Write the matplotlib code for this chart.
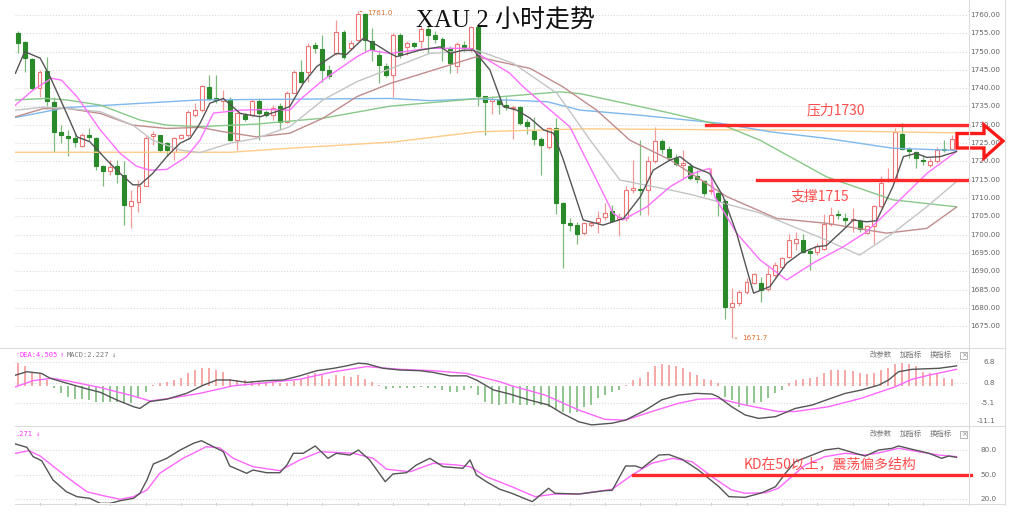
import matplotlib.pyplot as plt
from matplotlib.patches import Polygon, Rectangle
import numpy as np

plt.rcParams['font.family'] = ['DejaVu Sans', 'Noto Sans CJK SC']

# ---- XAU 2h candles ----
opens = [1755.2, 1752.5, 1748.0, 1740.0, 1744.7, 1736.1, 1727.9, 1727.0, 1726.4, 1724.1,
         1727.1, 1726.4, 1718.8, 1717.3, 1718.8, 1716.4, 1707.9, 1708.8, 1713.4, 1726.9,
         1727.1, 1725.0, 1722.7, 1726.4, 1727.1, 1732.7, 1734.1, 1740.3, 1737.3, 1736.5,
         1737.0, 1725.9, 1732.7, 1732.7, 1736.4, 1733.4, 1732.7, 1735.0, 1730.9, 1738.8,
         1744.5, 1744.5, 1751.8, 1750.6, 1745.0, 1749.7, 1755.3, 1750.9, 1753.2, 1760.3,
         1753.0, 1749.1, 1746.0, 1743.6, 1754.5, 1751.2, 1752.3, 1752.8, 1756.2, 1754.6,
         1753.5, 1750.7, 1746.2, 1751.9, 1750.9, 1756.7, 1737.8, 1736.4, 1736.8, 1735.4,
         1734.6, 1734.8, 1730.7, 1728.2, 1726.0, 1723.9, 1729.1, 1708.7, 1703.3, 1702.5,
         1700.4, 1702.5, 1703.4, 1704.7, 1706.4, 1704.4, 1704.5, 1712.3, 1712.5, 1712.3,
         1720.1, 1725.6, 1723.3, 1721.0, 1718.9, 1718.8, 1715.9, 1714.6, 1711.8, 1711.4,
         1709.3, 1680.2, 1681.4, 1684.3, 1686.9, 1686.9, 1685.2, 1689.0, 1691.2, 1694.0,
         1697.8, 1698.5, 1695.5, 1695.3, 1696.1, 1702.9, 1705.6, 1704.6, 1704.0, 1703.8,
         1700.5, 1702.3, 1707.8, 1714.9, 1715.3, 1727.6, 1723.5, 1722.5, 1720.4, 1719.1,
         1720.0, 1723.4, 1723.4]
highs = [1755.6, 1752.8, 1748.2, 1745.0, 1748.5, 1737.5, 1730.0, 1728.6, 1727.7, 1727.7,
         1729.0, 1726.8, 1719.0, 1720.4, 1720.4, 1720.0, 1712.3, 1715.0, 1727.3, 1728.2,
         1727.3, 1725.4, 1726.8, 1727.4, 1734.1, 1735.9, 1741.0, 1743.6, 1743.6, 1739.5,
         1737.7, 1733.6, 1733.2, 1737.0, 1737.0, 1734.1, 1735.4, 1736.0, 1739.1, 1744.9,
         1747.7, 1752.3, 1752.7, 1754.5, 1746.4, 1758.6, 1756.0, 1753.2, 1761.0, 1760.6,
         1756.4, 1750.5, 1747.0, 1755.0, 1755.0, 1753.0, 1752.6, 1757.0, 1757.0, 1755.5,
         1754.0, 1751.4, 1752.7, 1753.0, 1756.9, 1756.9, 1738.0, 1737.9, 1737.3, 1737.6,
         1735.0, 1735.1, 1731.7, 1732.2, 1726.6, 1729.5, 1731.8, 1708.9, 1704.6, 1703.5,
         1703.5, 1703.4, 1706.4, 1708.6, 1708.2, 1705.8, 1713.2, 1720.3, 1725.9, 1721.4,
         1729.3, 1726.2, 1724.2, 1722.0, 1723.1, 1719.7, 1717.7, 1715.0, 1718.1, 1711.8,
         1709.6, 1685.3, 1685.0, 1688.1, 1689.5, 1688.3, 1691.2, 1692.6, 1693.9, 1700.3,
         1700.8, 1700.3, 1696.4, 1697.8, 1705.6, 1707.5, 1706.7, 1705.9, 1707.4, 1704.4,
         1702.7, 1708.2, 1716.0, 1718.1, 1729.0, 1730.4, 1723.8, 1722.9, 1721.8, 1721.0,
         1724.0, 1725.8, 1727.2]
lows = [1749.5, 1744.5, 1739.5, 1737.7, 1735.0, 1722.7, 1725.0, 1721.4, 1724.0, 1723.9,
        1725.5, 1717.7, 1713.4, 1716.4, 1714.0, 1702.7, 1701.8, 1706.2, 1713.3, 1724.5,
        1722.7, 1721.4, 1720.5, 1726.0, 1726.8, 1732.2, 1733.6, 1736.8, 1736.0, 1734.0,
        1725.5, 1723.2, 1731.0, 1732.2, 1725.9, 1732.2, 1731.4, 1728.6, 1730.5, 1738.6,
        1741.4, 1741.8, 1749.5, 1741.8, 1742.5, 1749.1, 1748.1, 1750.5, 1752.8, 1750.0,
        1747.3, 1741.4, 1743.0, 1737.7, 1748.2, 1749.0, 1751.0, 1751.0, 1749.5, 1752.3,
        1747.3, 1744.1, 1744.1, 1749.8, 1750.0, 1735.2, 1727.3, 1732.9, 1732.9, 1734.0,
        1726.1, 1730.0, 1727.6, 1724.6, 1716.3, 1723.4, 1705.5, 1690.8, 1701.0, 1697.3,
        1700.0, 1702.0, 1700.4, 1704.0, 1703.5, 1699.5, 1703.6, 1711.4, 1705.4, 1705.4,
        1719.7, 1722.1, 1720.1, 1718.8, 1715.4, 1714.8, 1714.2, 1710.5, 1711.2, 1705.1,
        1677.0, 1671.7, 1680.6, 1683.8, 1686.5, 1681.7, 1684.7, 1688.5, 1690.8, 1693.5,
        1695.8, 1694.9, 1690.3, 1694.4, 1695.8, 1702.4, 1704.4, 1702.7, 1700.6, 1700.8,
        1700.1, 1697.3, 1707.4, 1714.4, 1714.9, 1723.1, 1721.0, 1718.3, 1719.0, 1718.6,
        1719.6, 1722.7, 1723.0]
closes = [1752.3, 1748.2, 1740.0, 1744.5, 1736.4, 1727.9, 1727.1, 1726.5, 1725.2, 1727.3,
          1726.8, 1718.8, 1717.5, 1718.6, 1716.5, 1708.2, 1709.1, 1713.4, 1726.5, 1727.5,
          1723.2, 1723.2, 1726.4, 1727.1, 1733.4, 1734.1, 1740.5, 1737.0, 1736.8, 1737.0,
          1725.9, 1733.2, 1731.5, 1736.4, 1733.2, 1732.7, 1734.5, 1730.9, 1738.8, 1744.5,
          1741.8, 1751.5, 1750.9, 1745.0, 1743.4, 1755.3, 1748.6, 1752.4, 1760.3, 1753.2,
          1750.5, 1746.4, 1743.6, 1754.5, 1749.1, 1752.3, 1751.5, 1756.2, 1754.6, 1753.5,
          1751.2, 1746.8, 1752.2, 1751.2, 1756.7, 1738.0, 1736.1, 1737.0, 1735.6, 1734.8,
          1734.9, 1730.5, 1729.8, 1726.1, 1724.4, 1729.1, 1708.7, 1703.3, 1702.5, 1700.2,
          1703.1, 1703.1, 1704.5, 1706.0, 1703.8, 1704.9, 1712.3, 1712.5, 1712.1, 1720.1,
          1725.6, 1723.5, 1721.3, 1719.2, 1719.6, 1715.6, 1715.1, 1711.4, 1712.2, 1709.1,
          1680.2, 1681.4, 1684.3, 1687.1, 1689.2, 1684.9, 1689.3, 1691.7, 1693.5, 1698.5,
          1698.9, 1695.3, 1695.0, 1696.9, 1702.9, 1705.3, 1705.3, 1704.1, 1704.4, 1701.4,
          1702.3, 1707.8, 1714.2, 1715.3, 1728.1, 1723.5, 1722.9, 1720.8, 1720.0, 1720.0,
          1723.1, 1723.1, 1726.2]

# moving averages at knot positions (bar index, price)
ma5_idx = [-0.4, 0.9, 3.1, 4.5, 6.4, 8.3, 10.1, 12.5, 14.4, 16.2, 17.2, 19, 21, 22.9, 24.3, 25.7,
           27.1, 29, 31.4, 34.2, 36.5, 38.4, 40.3, 42.2, 45, 46.4, 48.8, 50.7, 52.6, 53.5, 56.8,
           59.7, 61.1, 62.9, 64.4, 66.7, 68.6, 70.5, 72.4, 74.3, 75.7, 77.1, 79.9, 82.7, 85.6,
           88, 89.8, 92.2, 93.6, 95.5, 97.8, 99.7, 101.6, 104, 106.3, 108.7, 110.6, 112.9,
           114.3, 116.7, 118.1, 120, 121.4, 123.7, 125.2, 127, 128.5, 130.4, 132.7]
ma5_val = [1744.1, 1750, 1748.2, 1743.1, 1735, 1726.7, 1725.4, 1720.4, 1716.7, 1713.6, 1713.6,
           1716.7, 1721.3, 1725, 1726.3, 1730.4, 1735.9, 1737.2, 1733.1, 1732.2, 1733.6, 1735,
           1741.3, 1745.9, 1749.5, 1749.2, 1753.6, 1751.8, 1749.5, 1748.6, 1750.4, 1751.3,
           1749.5, 1750.4, 1750.4, 1745, 1735, 1734, 1731.8, 1728.6, 1727.7, 1720.4, 1704,
           1702.6, 1704.4, 1710.4, 1717.6, 1720.4, 1721.3, 1718.5, 1716.7, 1710.4, 1700.4,
           1684, 1685.8, 1692.2, 1694.9, 1696.7, 1697, 1701.3, 1704, 1703.5, 1703.8, 1713.1,
           1721.3, 1722.2, 1721.1, 1721.3, 1722.7]
ma10_idx = [-0.4, 2.1, 4.7, 6.1, 8.3, 11.6, 14.4, 16.7, 18.6, 21, 23.8, 25.7, 27.6, 31.4, 35.1,
            38.4, 39.8, 43.1, 47.9, 49.7, 52.6, 58.2, 63.9, 65.7, 69.5, 71.4, 74.7, 78, 81.8,
            84.1, 85.5, 88.9, 92.2, 95.4, 97.8, 98.5, 101.6, 104.9, 108.7, 112.4, 116.7, 120,
            123.7, 128.5, 132.7]
ma10_val = [1735.4, 1739.5, 1742.7, 1742.2, 1737.7, 1728.6, 1722.2, 1718.7, 1717.6, 1717.8,
            1721.3, 1725.8, 1733.2, 1734, 1734.2, 1734, 1736.8, 1742.2, 1748.6, 1750.4, 1749.5,
            1750.9, 1750.9, 1748.6, 1744.1, 1740.4, 1734.9, 1729.5, 1714.9, 1705.9, 1704.0,
            1707.6, 1713.1, 1716.7, 1718.1, 1710.4, 1700.4, 1693.1, 1687.6, 1692.2, 1696.7,
            1700.8, 1707.6, 1716.7, 1722.7]
ma20_idx = [-0.4, 3.5, 6.8, 11.6, 16.2, 19, 22.9, 25.7, 30, 33.7, 38.4, 43.1, 47.9, 51.5, 58.2,
            64.8, 70, 76.2, 80.9, 85.1, 92.2, 95.5, 104.9, 114.3, 119, 123.7, 128.5, 132.7]
ma20_val = [1734, 1734.8, 1734.5, 1733.6, 1729.9, 1725.8, 1723.1, 1722.4, 1725, 1726.3, 1729.5,
            1736.8, 1741.8, 1744.5, 1749.5, 1750.4, 1746.8, 1738.6, 1725.8, 1714.9, 1712.2,
            1710.8, 1705.9, 1698.5, 1694.4, 1700.4, 1707.6, 1714.5]
ma30_idx = [-0.4, 3.5, 6.8, 11.6, 16.2, 21, 25.7, 29, 33.7, 38.4, 43.1, 47.9, 52.6, 64.8, 72.4,
            77, 81.8, 86.5, 92.2, 100.2, 107.3, 114.3, 122.8, 128.5, 132.7]
ma30_val = [1732.2, 1734.4, 1734.5, 1733.1, 1729.9, 1729, 1729.3, 1728.1, 1726.7, 1727.7,
            1731.8, 1737.7, 1741.3, 1748.6, 1745.4, 1740.4, 1734.0, 1725.8, 1720.4, 1710.4,
            1704.4, 1703.1, 1700.4, 1701.7, 1707.5]
ma60_idx = [-0.4, 4, 6.8, 11.6, 17.2, 21, 25.7, 33.7, 43.1, 52.6, 65.3, 76.6, 79.5, 92.2, 100.2,
            104.9, 114.3, 123.7, 132.7]
ma60_val = [1736.8, 1737.2, 1736.8, 1735.4, 1731.3, 1729.9, 1729.5, 1730.2, 1731.8, 1735.1,
            1737.2, 1739.0, 1738.5, 1733.2, 1729.5, 1725.8, 1715.8, 1709.5, 1707.6]
ma120_idx = [-0.4, 6.8, 25.7, 52.6, 58.2, 64.9, 74.8, 79.5, 87.5, 99.3, 106.3, 114.3, 123.7, 132.7]
ma120_val = [1732.0, 1734.7, 1736.8, 1737.2, 1736.6, 1737.1, 1736.3, 1734.0, 1732.7, 1730.4,
             1728.1, 1726.3, 1723.6, 1723.0]
ma200_idx = [-0.4, 30, 38.4, 53, 65, 80, 110, 132.7]
ma200_val = [1722.5, 1722.5, 1723.6, 1725.3, 1728.1, 1728.9, 1728.5, 1727.8]

# ---- MACD ----
macd_hist = [6.7, 5.8, 4.1, 3.6, 1.7, -0.7, -2.2, -3.2, -3.9, -3.9,
             -4.1, -4.6, -4.6, -4.6, -4.6, -5.1, -5.1, -3.2, -1.9, 0.1,
             0.7, 1.2, 1.7, 2.4, 3.6, 4.7, 5.1, 5.1, 4.5, 4.1,
             1.9, 1.7, 1.7, 1.5, 1.2, 1.1, 1.0, 0.7, 0.7, 1.5,
             2.1, 3.1, 3.6, 3.1, 1.9, 3.1, 2.9, 2.7, 3.1, 1.9,
             1.0, 0.1, -1.0, -0.5, -0.7, -0.7, -0.5, -0.3, -0.5, -0.7,
             -1.2, -1.9, -1.9, -1.2, -0.5, -2.7, -4.6, -5.3, -5.6, -5.3,
             -5.1, -5.6, -5.6, -5.6, -5.6, -6.1, -7.1, -7.6, -7.8, -7.6,
             -6.1, -5.6, -3.7, -2.7, -1.9, -1.2, 0.2, 1.7, 2.4, 4.1,
             5.8, 6.3, 6.0, 5.8, 5.1, 4.1, 3.1, 2.1, 1.7, 0.7,
             -3.2, -4.1, -6.1, -5.6, -5.1, -4.6, -3.7, -2.2, -1.2, 0.7,
             1.7, 2.1, 2.4, 2.6, 3.6, 4.5, 4.7, 4.6, 4.3, 3.7,
             3.4, 3.6, 4.5, 5.1, 6.5, 6.6, 6.3, 5.8, 4.1, 3.6,
             3.6, 2.4, 2.1]
dif_idx = [-0.4, 1.2, 3.3, 4.5, 6.8, 9.7, 11.6, 13.9, 16.3, 17.2, 18.6, 21, 23.8, 26.2, 28.1,
           29.9, 32.3, 35.1, 37.5, 39.8, 42.2, 44.6, 46.4, 48.1, 49.3, 51.6, 54, 56.8, 58.7,
           61.1, 63.4, 64.8, 67.2, 69.5, 72.2, 75, 76.9, 79.3, 81.1, 84, 85.9, 88.7, 91, 93.4,
           95.8, 98.1, 99, 100.9, 102.8, 104.7, 107.1, 109.9, 112.3, 114.6, 117, 119.3, 121.7,
           123.1, 124.5, 126.4, 130.2, 132.7]
dif_val = [3.1, 4.1, 3.6, 2.2, 0.8, -0.9, -1.9, -4.1, -6.1, -6.6, -4.6, -3.9, -2.2, 0.2, 1.7,
           1.7, 1.0, 1.5, 1.7, 2.9, 4.4, 5.1, 5.8, 6.6, 6.4, 5.1, 4.6, 4.4, 3.9, 2.9,
           2.9, 1.7, -1.2, -2.4, -4.1, -5.6, -8.0, -10.5, -11.4, -10.9, -10.0, -7.1, -4.1,
           -2.7, -2.2, -2.4, -3.2, -6.1, -8.5, -9.5, -9.0, -6.6, -5.6, -3.9, -2.2, -1.2,
           0.2, 1.7, 4.1, 4.8, 5.1, 5.8]
dea_idx = [-0.4, 2.1, 4.7, 6.8, 11.6, 16.3, 18.6, 21, 25.7, 30.4, 35.1, 39.8, 44.6, 49.3, 54,
           58.7, 63.4, 68.1, 69.8, 74.5, 79.3, 83, 85.9, 89.6, 93.4, 96.2, 99, 102.8, 107.5,
           109.9, 114.6, 119.3, 124, 126.4, 128.8, 132.7]
dea_val = [-0.3, 1.5, 2.2, 1.5, -0.5, -3.0, -4.4, -3.8, -2.2, 0, 0.9, 1.9, 4.1, 5.6, 4.8,
           4.4, 3.6, 1.2, 0.0, -2.7, -7.1, -9.8, -10.0, -7.5, -5.1, -3.9, -3.7, -5.6, -7.5,
           -7.5, -6.1, -3.6, -0.3, 1.9, 3.1, 4.8]

# ---- KD ----
k_idx = [-0.4, 1.2, 2.1, 3.3, 4.9, 6.8, 8.3, 10.1, 11.6, 13, 14.4, 16.3, 17.2, 18.2, 19.1, 21,
         22.9, 24.8, 25.9, 27.6, 29, 29.9, 32.3, 33.2, 35.1, 37, 38, 38.9, 40.3, 42, 43.8, 45,
         46.9, 48.1, 49.7, 51.9, 53, 54.9, 56.3, 58.2, 60.1, 62.9, 63.9, 64.8, 66.2, 68.1,
         69.8, 72.7, 75, 75.9, 79.3, 83, 84, 85.9, 87.3, 88.2, 90.6, 92, 93.9, 96.2, 99.1,
         100.5, 102.8, 105.2, 107.1, 108.5, 109.9, 112.3, 114.1, 116, 118.4, 119.8, 121.7,
         123.6, 124.5, 126.4, 128.8, 130.6, 131.6, 132.7]
k_val = [87.3, 83.3, 71.9, 67, 43.6, 29.3, 23.3, 21.3, 15.2, 15.2, 18.4, 21.3, 27.4, 43.6, 63,
         69.9, 80, 88.2, 91.3, 84, 78, 60.6, 51.7, 55.7, 52.4, 52.4, 61.8, 76, 76, 84.9, 69.9,
         76, 73.8, 80, 67.9, 41.5, 50.9, 52.4, 61.8, 69.9, 59.7, 57.8, 67.9, 49.6, 41.5, 32.3,
         27.4, 17.2, 33.5, 27.4, 26.5, 30.6, 31, 60.6, 60.6, 57.8, 73.9, 74.5, 68.7, 55.7,
         35.4, 23.3, 22.5, 28.1, 35.4, 51.7, 65.8, 73.9, 80, 82.1, 76, 72.7, 80, 82.1, 84.9,
         80.9, 76, 69.9, 72.7, 71.1]
d_idx = [-0.4, 1.5, 3.1, 6.8, 9.7, 11.6, 14.4, 16.3, 18.2, 20, 23.3, 26.6, 28.5, 30.4, 33.2, 37,
         39.8, 42.7, 47.4, 50.2, 52.1, 55.4, 58.7, 62, 63.9, 66.2, 69.8, 73.1, 75.9, 79.3, 84,
         86.8, 89.6, 92.5, 95.3, 98.1, 100.9, 102.8, 105.7, 107.5, 109.4, 111.3, 114.1, 117,
         119.8, 121.7, 124.5, 127.3, 130.2, 132.7]
d_val = [76, 79.2, 72.7, 47.6, 29.3, 25.3, 20.1, 23.3, 31.4, 51.7, 69.9, 84, 82.5, 69.9, 59.7,
         54.9, 67.9, 78, 76, 69.9, 56.6, 53.6, 63.9, 61.8, 59.7, 47.6, 35.4, 23.3, 26.5, 26.5,
         32.3, 49.6, 63.9, 69.9, 65.8, 47.6, 31.4, 27.4, 28.1, 33.5, 47.6, 61.8, 71.9, 76,
         73.9, 76.5, 82.1, 78, 73.9, 71.9]

price_ticks = list(range(1675, 1761, 5))

W, H = 1024, 512
fig = plt.figure(figsize=(W / 100, H / 100), dpi=100)


def box(x0, y0, x1, y1):
    return [x0 / W, 1 - y1 / H, (x1 - x0) / W, (y1 - y0) / H]


XL = (-0.467, 134.33)
GRID = dict(color='#d9d9d9', lw=0.8, ls=(0, (1, 1.6)), zorder=0)
LBL = dict(fontsize=5.2, color='#666666', ha='right', va='center', clip_on=False)

# ---------------- main price panel ----------------
ax = fig.add_axes(box(15, 2, 968, 345))
ax.set_xlim(*XL)
ax.set_ylim(1669.84, 1763.55)
ax.axis('off')
for p in price_ticks:
    ax.axhline(p, **GRID)
    ax.text(1.0336, p, '%.2f' % p, transform=ax.get_yaxis_transform(), **LBL)

x = np.arange(len(opens))
o, h, l, c = map(np.array, (opens, highs, lows, closes))
up = c >= o
body_lo = np.minimum(o, c)
body_h = np.maximum(np.abs(c - o), 0.3)
wick_col = np.where(up, '#f29a9a', '#7dbb7d')
ax.vlines(x, l, h, colors=wick_col, lw=0.9, zorder=2)
ax.bar(x[up], body_h[up], bottom=body_lo[up], width=0.56, color='white',
       edgecolor='#ee7474', lw=0.8, zorder=3)
ax.bar(x[~up], body_h[~up], bottom=body_lo[~up], width=0.56, color='#2a8a2a',
       edgecolor='#2a8a2a', lw=0.8, zorder=3)

ma_lines = [(ma200_idx, ma200_val, '#ffcc88'), (ma120_idx, ma120_val, '#7fb8ec'),
            (ma60_idx, ma60_val, '#88c888'), (ma30_idx, ma30_val, '#c08c8c'),
            (ma20_idx, ma20_val, '#c4c4c4'), (ma10_idx, ma10_val, '#ff70ff'),
            (ma5_idx, ma5_val, '#555555')]
for xi, yi, col in ma_lines:
    ax.plot(xi, yi, color=col, lw=1.0, zorder=4)

# highs / lows marks
ax.annotate('1761.0', xy=(48, 1761.0), xytext=(49.4, 1760.6), fontsize=5.2,
            color='#e07030', va='center',
            arrowprops=dict(arrowstyle='-', color='#e07030', lw=0.7))
ax.annotate('1671.7', xy=(101, 1671.7), xytext=(102.4, 1671.7), fontsize=5.2,
            color='#e07030', va='center',
            arrowprops=dict(arrowstyle='-', color='#e07030', lw=0.7))

# resistance / support
ax.plot([97.3, 134.33], [1730, 1730], color='#ff2a2a', lw=2.4, zorder=6, clip_on=False)
ax.plot([104.5, 134.33], [1715, 1715], color='#ff2a2a', lw=2.4, zorder=6, clip_on=False)
ax.text(115.7, 1733.8, '压力1730', color='#ff4d4d', fontsize=10, ha='center', va='center',
        family=['Noto Sans CJK SC'], zorder=7)
ax.text(113.4, 1710.3, '支撑1715', color='#ff4d4d', fontsize=10, ha='center', va='center',
        family=['Noto Sans CJK SC'], zorder=7)

# ---------------- MACD panel ----------------
am = fig.add_axes(box(15, 348, 968, 426))
am.set_xlim(*XL)
am.set_ylim(-11.72, 11.02)
am.axis('off')
for v in (6.8, 0.8, -5.1):
    am.axhline(v, **GRID)
for v, t in ((6.8, '6.8'), (0.8, '0.8'), (-5.1, '-5.1'), (-10.2, '-11.1')):
    am.text(1.0284, v, t, transform=am.get_yaxis_transform(), **LBL)
hist = np.array(macd_hist)
am.vlines(x, 0, hist, colors=np.where(hist >= 0, '#f4a0a0', '#86c086'), lw=1.3, zorder=2)
am.plot(dea_idx, dea_val, color='#ff66ff', lw=1.0, zorder=3)
am.plot(dif_idx, dif_val, color='#555555', lw=1.0, zorder=4)

# ---------------- KD panel ----------------
ak = fig.add_axes(box(15, 426, 968, 503))
ak.set_xlim(*XL)
ak.set_ylim(15.61, 109.17)
ak.axis('off')
for v in (80, 50, 20):
    ak.axhline(v, **GRID)
    ak.text(1.0305, v, '%.1f' % v, transform=ak.get_yaxis_transform(), **LBL)
ak.plot(d_idx, d_val, color='#ff66ff', lw=1.0, zorder=3)
ak.plot(k_idx, k_val, color='#555555', lw=1.0, zorder=4)
ak.plot([87.0, 134.8], [50, 50], color='#ff2a2a', lw=2.4, zorder=6, clip_on=False)
ak.text(114.8, 63.0, 'KD在50以上，震荡偏多结构', color='#ff4d4d', fontsize=10,
        ha='center', va='center', family=['Noto Sans CJK SC'], zorder=7)
for t in range(3, 133, 5):
    ak.plot([t, t], [15.61, 13.3], color='#c8c8c8', lw=0.7, clip_on=False)

# ---------------- frame, headers, arrow (pixel overlay) ----------------
ov = fig.add_axes([0, 0, 1, 1], zorder=10)
ov.set_xlim(0, W)
ov.set_ylim(H, 0)
ov.axis('off')
ov.patch.set_alpha(0)
edge = '#dcdcdc'
ov.plot([968.5, 968.5], [0, 505], color=edge, lw=0.8)
ov.plot([1005, 1005], [0, 505], color=edge, lw=0.8)
ov.plot([0, 1005], [347.5, 347.5], color=edge, lw=0.8)
ov.plot([15, 1005], [426, 426], color=edge, lw=0.8)
ov.plot([15, 1005], [504, 504], color=edge, lw=0.8)

ov.text(505, 21, 'XAU 2 小时走势', fontsize=18, ha='center', va='center',
        family=['Liberation Serif', 'Noto Sans CJK SC'], color='#111111')

mono = ['DejaVu Sans Mono', 'Noto Sans CJK SC']
hdr = dict(fontsize=5, va='center', family=mono)
ov.text(15, 355, '·', color='#ff33ff', **hdr)
ov.text(19, 355, 'DEA:4.505', color='#ff33ff', **hdr)
ov.text(59, 355, '↑', color='#ff33ff', **hdr)
ov.text(67, 355, 'MACD:2.227', color='#777777', **hdr)
ov.text(111, 355, '↓', color='#777777', **hdr)
ov.text(15, 434, '.271', color='#ff33ff', **hdr)
ov.text(35, 434, '↓', color='#ff33ff', **hdr)
for yy in (355, 434):
    for xx, t in ((870, '改参数'), (900, '加指标'), (930, '换指标')):
        ov.text(xx, yy, t, fontsize=5.3, color='#777777', va='center',
                family=['Noto Sans CJK SC'])
    ov.add_patch(Rectangle((960, yy - 3.5), 7, 7, fill=False, ec='#aaaaaa', lw=0.6))
    ov.text(963.5, yy, '×', fontsize=5, color='#888888', ha='center', va='center')

arrow = [(957, 133.5), (984, 133.5), (984, 125), (1003, 141), (984, 158),
         (984, 148), (957, 148)]
ov.add_patch(Polygon(arrow, closed=True, fill=False, ec='#ff1a1a', lw=2.4, joinstyle='miter'))

fig.savefig('out.png', dpi=100)
